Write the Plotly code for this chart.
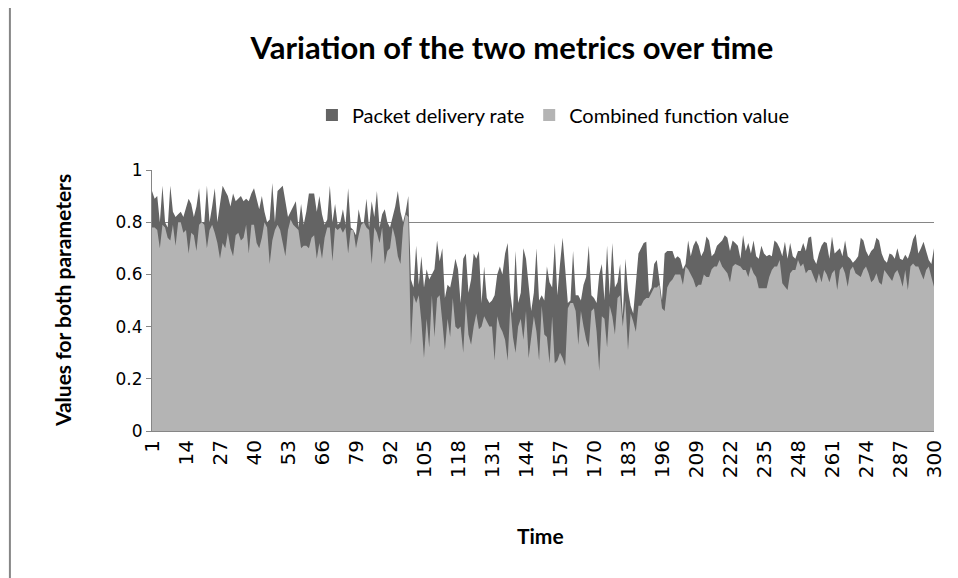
import plotly.graph_objects as go

# Time index (categories 1..300)
time = list(range(1, 301))
tick_vals = list(range(1, 301, 13))
tick_text = [str(v) for v in tick_vals]

# Packet delivery rate (dark series)
pdr = [
    0.92, 0.89, 0.90, 0.80, 0.94, 0.80, 0.78, 0.94, 0.84, 0.82, 0.83, 0.84, 0.82, 0.86, 0.89, 0.87, 0.82, 0.86,
    0.93, 0.80, 0.80, 0.94, 0.80, 0.86, 0.93, 0.80, 0.88, 0.94, 0.92, 0.90, 0.86, 0.91, 0.88, 0.89, 0.90, 0.88,
    0.89, 0.88, 0.91, 0.93, 0.89, 0.85, 0.90, 0.84, 0.80, 0.81, 0.95, 0.80, 0.92, 0.93, 0.94, 0.88, 0.82, 0.84,
    0.86, 0.88, 0.78, 0.87, 0.79, 0.84, 0.91, 0.91, 0.91, 0.84, 0.90, 0.83, 0.79, 0.81, 0.94, 0.80, 0.87, 0.79,
    0.80, 0.85, 0.79, 0.93, 0.78, 0.77, 0.75, 0.85, 0.80, 0.80, 0.89, 0.78, 0.88, 0.82, 0.92, 0.78, 0.83, 0.85,
    0.80, 0.78, 0.82, 0.86, 0.92, 0.84, 0.80, 0.84, 0.90, 0.58, 0.55, 0.71, 0.56, 0.67, 0.55, 0.62, 0.58, 0.60,
    0.62, 0.73, 0.65, 0.70, 0.51, 0.56, 0.55, 0.60, 0.66, 0.62, 0.49, 0.66, 0.68, 0.53, 0.58, 0.68, 0.66, 0.69,
    0.49, 0.63, 0.51, 0.49, 0.50, 0.52, 0.60, 0.63, 0.60, 0.68, 0.72, 0.53, 0.45, 0.69, 0.49, 0.53, 0.70, 0.66,
    0.55, 0.46, 0.53, 0.70, 0.50, 0.52, 0.50, 0.63, 0.57, 0.55, 0.72, 0.52, 0.64, 0.74, 0.62, 0.49, 0.50, 0.69,
    0.52, 0.52, 0.50, 0.56, 0.59, 0.71, 0.52, 0.51, 0.49, 0.60, 0.64, 0.50, 0.71, 0.52, 0.72, 0.55, 0.57, 0.64,
    0.44, 0.66, 0.54, 0.48, 0.45, 0.58, 0.68, 0.70, 0.72, 0.725, 0.53, 0.55, 0.64, 0.655, 0.58, 0.50, 0.68, 0.69,
    0.69, 0.69, 0.66, 0.67, 0.66, 0.62, 0.64, 0.73, 0.67, 0.71, 0.73, 0.71, 0.67, 0.69, 0.745, 0.73, 0.67, 0.68,
    0.71, 0.72, 0.73, 0.75, 0.74, 0.69, 0.73, 0.72, 0.71, 0.66, 0.75, 0.69, 0.72, 0.68, 0.73, 0.67, 0.66, 0.71,
    0.68, 0.67, 0.675, 0.67, 0.73, 0.72, 0.70, 0.67, 0.725, 0.66, 0.72, 0.67, 0.66, 0.69, 0.69, 0.72, 0.69, 0.74,
    0.745, 0.66, 0.64, 0.68, 0.71, 0.725, 0.72, 0.66, 0.745, 0.68, 0.69, 0.70, 0.67, 0.73, 0.67, 0.66, 0.645, 0.655,
    0.67, 0.74, 0.73, 0.69, 0.67, 0.69, 0.70, 0.74, 0.73, 0.68, 0.655, 0.645, 0.68, 0.675, 0.66, 0.70, 0.66, 0.655,
    0.675, 0.66, 0.69, 0.735, 0.755, 0.68, 0.70, 0.725, 0.69, 0.655, 0.64, 0.70,
]

# Combined function value (light series)
cfv = [
    0.78, 0.78, 0.77, 0.70, 0.79, 0.78, 0.74, 0.73, 0.79, 0.71, 0.80, 0.80, 0.76, 0.77, 0.68, 0.76, 0.75, 0.69,
    0.79, 0.80, 0.79, 0.70, 0.77, 0.79, 0.76, 0.72, 0.66, 0.72, 0.70, 0.76, 0.70, 0.67, 0.75, 0.76, 0.73, 0.74,
    0.79, 0.68, 0.79, 0.79, 0.72, 0.70, 0.74, 0.80, 0.78, 0.64, 0.73, 0.77, 0.79, 0.77, 0.72, 0.67, 0.77, 0.81,
    0.79, 0.78, 0.77, 0.70, 0.71, 0.71, 0.70, 0.74, 0.75, 0.66, 0.72, 0.66, 0.74, 0.78, 0.78, 0.65, 0.78, 0.77,
    0.78, 0.76, 0.78, 0.68, 0.77, 0.77, 0.70, 0.75, 0.79, 0.80, 0.78, 0.77, 0.64, 0.78, 0.76, 0.72, 0.78, 0.64,
    0.69, 0.70, 0.78, 0.74, 0.67, 0.64, 0.78, 0.83, 0.82, 0.33, 0.52, 0.49, 0.52, 0.42, 0.28, 0.43, 0.32, 0.52,
    0.36, 0.51, 0.52, 0.42, 0.31, 0.43, 0.36, 0.51, 0.40, 0.39, 0.40, 0.30, 0.49, 0.37, 0.33, 0.40, 0.45, 0.39,
    0.40, 0.44, 0.42, 0.40, 0.40, 0.27, 0.44, 0.40, 0.38, 0.35, 0.27, 0.48, 0.36, 0.30, 0.40, 0.43, 0.35, 0.46,
    0.28, 0.35, 0.44, 0.38, 0.27, 0.48, 0.37, 0.36, 0.26, 0.44, 0.26, 0.27, 0.30, 0.28, 0.25, 0.47, 0.49, 0.49,
    0.46, 0.33, 0.46, 0.40, 0.35, 0.32, 0.46, 0.47, 0.38, 0.23, 0.44, 0.43, 0.32, 0.48, 0.44, 0.37, 0.51, 0.52,
    0.40, 0.50, 0.31, 0.45, 0.42, 0.38, 0.48, 0.48, 0.50, 0.51, 0.51, 0.53, 0.55, 0.55, 0.56, 0.47, 0.46, 0.55,
    0.57, 0.58, 0.60, 0.60, 0.60, 0.56, 0.63, 0.62, 0.60, 0.58, 0.55, 0.56, 0.56, 0.60, 0.59, 0.59, 0.62, 0.63,
    0.63, 0.655, 0.63, 0.617, 0.604, 0.57, 0.63, 0.64, 0.636, 0.63, 0.617, 0.617, 0.59, 0.63, 0.604, 0.59, 0.547, 0.547,
    0.547, 0.547, 0.59, 0.617, 0.63, 0.63, 0.655, 0.566, 0.553, 0.54, 0.604, 0.617, 0.617, 0.655, 0.63, 0.642, 0.604, 0.617,
    0.617, 0.59, 0.566, 0.604, 0.57, 0.617, 0.60, 0.57, 0.604, 0.617, 0.54, 0.617, 0.63, 0.604, 0.553, 0.617, 0.63, 0.604,
    0.598, 0.59, 0.617, 0.63, 0.604, 0.57, 0.58, 0.604, 0.57, 0.56, 0.617, 0.604, 0.59, 0.575, 0.604, 0.617, 0.59, 0.553,
    0.617, 0.54, 0.63, 0.642, 0.63, 0.63, 0.604, 0.58, 0.617, 0.63, 0.59, 0.553,
]

y_ticks = [0, 0.2, 0.4, 0.6, 0.8, 1]

DARK = "rgb(100,100,100)"
LIGHT = "rgb(180,180,180)"
GRID = "rgb(134,134,134)"
FONT = "Lato"

# page offset of the figure (browser body margin)
OFF = 8
W, H = 958 - OFF, 578 - OFF
PL, PR, PT, PB = 152, 939, 170, 431          # plot area in page pixels
PW, PH = PR - PL, PB - PT


def px(x):
    return (x - PL) / PW


def py(y):
    return (PB - y) / PH


fig = go.Figure()
fig.add_trace(go.Scatter(
    x=time, y=pdr, name="Packet delivery rate", mode="lines", showlegend=False,
    line=dict(width=0, color=DARK), fill="tozeroy", fillcolor=DARK,
))
fig.add_trace(go.Scatter(
    x=time, y=cfv, name="Combined function value", mode="lines", showlegend=False,
    line=dict(width=0, color=LIGHT), fill="tozeroy", fillcolor=LIGHT,
))
# legend entries with square keys
fig.add_trace(go.Scatter(x=[None], y=[None], mode="markers", name="Packet delivery rate",
                         marker=dict(symbol="square", size=12, color=DARK)))
fig.add_trace(go.Scatter(x=[None], y=[None], mode="markers", name="Combined function value",
                         marker=dict(symbol="square", size=12, color=LIGHT)))

fig.update_layout(
    width=W, height=H,
    margin=dict(l=PL - OFF, r=W - (PR - OFF), t=PT - OFF, b=H - (PB - OFF)),
    paper_bgcolor="white", plot_bgcolor="white",
    font=dict(family=FONT, color="black"),
    title=dict(text="<b>Variation of the two metrics over time</b>", x=(512 - OFF) / W, xref="container",
               y=1 - (48 - OFF) / H, yref="container", xanchor="center", yanchor="middle",
               font=dict(size=31, family=FONT, color="black")),
    legend=dict(orientation="h", x=px(556), y=py(115), xanchor="center", yanchor="middle",
                font=dict(size=20, family=FONT, color="black"), itemwidth=30,
                traceorder="normal", bgcolor="rgba(0,0,0,0)"),
    showlegend=True,
    xaxis=dict(range=[1, 300], tickmode="array", tickvals=tick_vals, ticktext=tick_text,
               tickangle=-90, showgrid=False, showline=True, linecolor=GRID,
               linewidth=1, zeroline=False, ticks="",
               tickfont=dict(family="DejaVu Sans", size=20, color="black")),
    yaxis=dict(range=[0, 1], tickmode="array", tickvals=y_ticks, showgrid=True,
               gridcolor=GRID, gridwidth=1, showline=True, linecolor=GRID,
               linewidth=1, zeroline=False, ticks="outside", ticklen=5, tickcolor=GRID,
               tickfont=dict(family="DejaVu Sans", size=17, color="black")),
    annotations=[
        dict(text="<b>Values for both parameters</b>", xref="paper", yref="paper",
             x=px(62), y=0.5, textangle=-90, showarrow=False,
             xanchor="center", yanchor="middle", font=dict(size=21, family=FONT, color="black")),
        dict(text="<b>Time</b>", xref="paper", yref="paper", x=px(543),
             y=py(535), showarrow=False, xanchor="center", yanchor="middle",
             font=dict(size=21, family=FONT, color="black")),
    ],
    shapes=[
        dict(type="line", xref="paper", yref="paper", x0=px(9), x1=px(9),
             y0=py(600), y1=py(OFF), line=dict(color=GRID, width=2)),
    ],
)

fig.write_html("out.html")
